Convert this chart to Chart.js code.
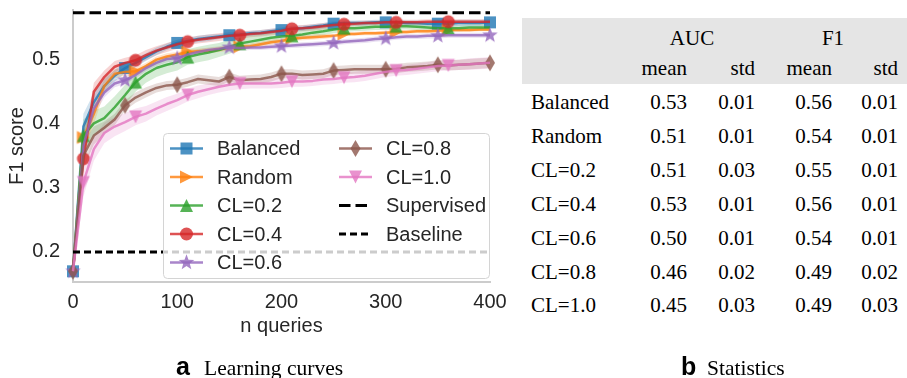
<!DOCTYPE html>
<html><head><meta charset="utf-8">
<script src="https://cdn.jsdelivr.net/npm/chart.js@4.4.1/dist/chart.umd.min.js"></script>
<style>
html,body{margin:0;padding:0;background:#fff;width:907px;height:378px;overflow:hidden;position:relative;}
#wrap{position:absolute;left:0;top:0;width:510px;height:378px;}
.t{position:absolute;font-family:"Liberation Serif","Times New Roman",serif;font-size:21px;color:#000;white-space:nowrap;line-height:24px;}
.r{text-align:right;width:120px;}
.c{text-align:center;width:120px;}
#hdr{position:absolute;left:522px;top:18px;width:385px;height:66px;background:#e5e5e5;}
.capL{position:absolute;font-family:"Liberation Sans",Arial,sans-serif;font-weight:bold;font-size:25px;line-height:30px;color:#000;white-space:nowrap;}
.capT{position:absolute;font-family:"Liberation Serif","Times New Roman",serif;font-size:21.5px;line-height:26px;color:#000;white-space:nowrap;}
</style></head>
<body>
<div id="wrap"><canvas id="c"></canvas></div>
<div id="hdr"></div>
<div id="tbl"></div>
<div class="capL" style="left:176px;top:351px;">a</div>
<div class="capT" style="left:204px;top:354.5px;">Learning curves</div>
<div class="capL" style="left:681px;top:351px;">b</div>
<div class="capT" style="left:707px;top:354.5px;">Statistics</div>
<script>
// ---------- data ----------
const queries = [0,10,20,30,40,50,60,70,80,90,100,110,120,130,140,150,160,170,180,190,200,210,220,230,240,250,260,270,280,290,300,310,320,330,340,350,360,370,380,390,400];
const seriesNames = ['Balanced','Random','CL=0.2','CL=0.4','CL=0.6','CL=0.8','CL=1.0'];
const balanced = [0.170,0.395,0.433,0.458,0.474,0.486,0.494,0.503,0.512,0.519,0.525,0.528,0.531,0.533,0.535,0.537,0.538,0.540,0.541,0.543,0.545,0.547,0.548,0.550,0.552,0.555,0.556,0.556,0.556,0.557,0.557,0.557,0.556,0.556,0.555,0.555,0.555,0.556,0.556,0.556,0.557];
const random = [0.170,0.378,0.415,0.458,0.477,0.480,0.481,0.489,0.499,0.504,0.507,0.511,0.512,0.513,0.515,0.517,0.519,0.520,0.523,0.526,0.528,0.532,0.533,0.534,0.535,0.536,0.539,0.539,0.540,0.540,0.541,0.542,0.542,0.543,0.543,0.544,0.545,0.545,0.545,0.546,0.546];
const cl02 = [0.170,0.381,0.400,0.408,0.425,0.444,0.464,0.477,0.486,0.491,0.495,0.503,0.507,0.510,0.514,0.519,0.524,0.527,0.530,0.533,0.535,0.536,0.538,0.541,0.543,0.546,0.548,0.548,0.549,0.550,0.550,0.551,0.551,0.550,0.549,0.548,0.548,0.548,0.549,0.549,0.549];
const cl04 = [0.170,0.345,0.449,0.472,0.488,0.494,0.498,0.506,0.513,0.518,0.523,0.527,0.530,0.532,0.534,0.536,0.537,0.539,0.540,0.542,0.544,0.547,0.548,0.549,0.551,0.553,0.554,0.555,0.556,0.556,0.557,0.557,0.557,0.557,0.558,0.558,0.558,0.558,0.558,0.558,0.558];
const cl06 = [0.170,0.366,0.423,0.448,0.462,0.467,0.475,0.486,0.494,0.500,0.501,0.507,0.511,0.514,0.516,0.518,0.517,0.518,0.518,0.519,0.520,0.521,0.522,0.523,0.524,0.525,0.527,0.528,0.529,0.531,0.532,0.534,0.535,0.535,0.536,0.536,0.537,0.537,0.537,0.537,0.537];
const cl08 = [0.170,0.350,0.381,0.393,0.406,0.428,0.440,0.448,0.455,0.459,0.460,0.464,0.469,0.467,0.465,0.472,0.467,0.468,0.469,0.472,0.477,0.477,0.475,0.476,0.477,0.482,0.483,0.484,0.484,0.484,0.484,0.485,0.487,0.488,0.489,0.491,0.490,0.491,0.492,0.493,0.494];
const cl10 = [0.170,0.308,0.360,0.385,0.395,0.402,0.410,0.415,0.423,0.430,0.436,0.444,0.449,0.453,0.457,0.460,0.462,0.462,0.462,0.462,0.463,0.465,0.465,0.466,0.468,0.469,0.471,0.472,0.474,0.477,0.480,0.482,0.483,0.485,0.487,0.489,0.490,0.491,0.492,0.493,0.494];
const stdBalanced = [0.003,0.020,0.014,0.011,0.009,0.008,0.007,0.006,0.006,0.005,0.005,0.005,0.005,0.005,0.004,0.004,0.004,0.004,0.004,0.004,0.004,0.004,0.004,0.004,0.004,0.004,0.004,0.004,0.004,0.004,0.004,0.004,0.004,0.004,0.004,0.005,0.005,0.005,0.005,0.005,0.005];
const stdRandom = [0.003,0.020,0.016,0.010,0.007,0.006,0.005,0.005,0.005,0.005,0.004,0.004,0.004,0.004,0.004,0.004,0.004,0.004,0.004,0.004,0.004,0.004,0.004,0.004,0.004,0.003,0.003,0.003,0.003,0.003,0.003,0.003,0.003,0.003,0.003,0.003,0.003,0.003,0.003,0.003,0.003];
const stdCl02 = [0.003,0.025,0.020,0.018,0.017,0.016,0.015,0.014,0.014,0.013,0.013,0.012,0.012,0.012,0.011,0.011,0.010,0.010,0.009,0.009,0.008,0.008,0.007,0.007,0.006,0.006,0.006,0.005,0.005,0.005,0.005,0.005,0.005,0.005,0.005,0.005,0.005,0.005,0.005,0.005,0.005];
const stdCl04 = [0.003,0.022,0.014,0.010,0.009,0.008,0.008,0.008,0.007,0.007,0.007,0.006,0.006,0.006,0.006,0.006,0.006,0.005,0.005,0.005,0.005,0.005,0.005,0.005,0.005,0.004,0.004,0.004,0.004,0.004,0.004,0.004,0.004,0.004,0.004,0.004,0.004,0.004,0.004,0.004,0.004];
const stdCl06 = [0.003,0.020,0.012,0.008,0.006,0.006,0.005,0.005,0.005,0.005,0.004,0.004,0.004,0.004,0.004,0.004,0.004,0.004,0.004,0.004,0.004,0.004,0.004,0.004,0.004,0.004,0.004,0.004,0.004,0.004,0.004,0.004,0.004,0.004,0.004,0.004,0.004,0.004,0.004,0.004,0.004];
const stdCl08 = [0.003,0.020,0.014,0.010,0.009,0.008,0.008,0.008,0.007,0.007,0.007,0.007,0.007,0.007,0.007,0.007,0.007,0.007,0.007,0.007,0.007,0.007,0.007,0.007,0.007,0.007,0.007,0.007,0.007,0.007,0.007,0.007,0.007,0.007,0.007,0.007,0.008,0.008,0.008,0.008,0.008];
const stdCl10 = [0.003,0.022,0.018,0.016,0.015,0.014,0.013,0.012,0.011,0.011,0.010,0.010,0.010,0.009,0.009,0.009,0.009,0.008,0.008,0.008,0.008,0.008,0.008,0.008,0.008,0.008,0.008,0.008,0.008,0.008,0.008,0.008,0.008,0.008,0.008,0.008,0.008,0.008,0.009,0.009,0.009];
const supervisedLevel = 0.572;
const baselineLevel = 0.2;
const xTicks = [0,100,200,300,400];
const yTicks = [0.2,0.3,0.4,0.5];
const yTickLabels = ['0.2','0.3','0.4','0.5'];
// statistics table
const tableRows = ['Balanced','Random','CL=0.2','CL=0.4','CL=0.6','CL=0.8','CL=1.0'];
const aucMean = ['0.53','0.51','0.51','0.53','0.50','0.46','0.45'];
const aucStd  = ['0.01','0.01','0.03','0.01','0.01','0.02','0.03'];
const f1Mean  = ['0.56','0.54','0.55','0.56','0.54','0.49','0.49'];
const f1Std   = ['0.01','0.01','0.01','0.01','0.01','0.02','0.03'];

// ---------- styles ----------
const means = [balanced, random, cl02, cl04, cl06, cl08, cl10];
const stds = [stdBalanced, stdRandom, stdCl02, stdCl04, stdCl06, stdCl08, stdCl10];
const rgb = ['31,119,180','255,127,14','44,160,44','214,39,40','148,103,189','140,86,75','227,119,194'];
const shapes = ['square','triRight','triUp','circle','star','thinDiamond','triDown'];
const markOffset = [0,1,1,1,0,0,1];
const FONT = '"Liberation Sans", Arial, sans-serif';
const TXT = '#262626';

function drawShape(g, shape, x, y){
  g.beginPath();
  const h = 6.5;
  switch(shape){
    case 'square': g.rect(x-6, y-6, 12, 12); break;
    case 'circle': g.arc(x, y, 6.5, 0, Math.PI*2); break;
    case 'triUp': g.moveTo(x, y-h); g.lineTo(x+h, y+h); g.lineTo(x-h, y+h); g.closePath(); break;
    case 'triDown': g.moveTo(x, y+h); g.lineTo(x+h, y-h); g.lineTo(x-h, y-h); g.closePath(); break;
    case 'triRight': g.moveTo(x+h, y); g.lineTo(x-h, y-h); g.lineTo(x-h, y+h); g.closePath(); break;
    case 'thinDiamond': g.moveTo(x, y-8.5); g.lineTo(x+5, y); g.lineTo(x, y+8.5); g.lineTo(x-5, y); g.closePath(); break;
    case 'star': {
      for (let k=0;k<10;k++){
        const r = k%2===0 ? 8.2 : 3.4;
        const a = -Math.PI/2 + k*Math.PI/5;
        const px = x + r*Math.cos(a), py = y + r*Math.sin(a);
        if(k===0) g.moveTo(px,py); else g.lineTo(px,py);
      }
      g.closePath(); break;
    }
  }
  g.fill();
}
function markerCanvas(shape, color){
  const S = 20, c = document.createElement('canvas');
  c.width = S; c.height = S;
  const g = c.getContext('2d');
  g.fillStyle = color;
  drawShape(g, shape, S/2, S/2);
  return c;
}

const datasets = [];
means.forEach((m, i) => {
  datasets.push({data: m.map((v,k)=>({x: queries[k], y: v + stds[i][k]})), borderWidth:0, borderColor:'rgba(0,0,0,0)', pointRadius:0, fill:false, order:20, clip:false});
  datasets.push({data: m.map((v,k)=>({x: queries[k], y: v - stds[i][k]})), borderWidth:0, borderColor:'rgba(0,0,0,0)', pointRadius:0, fill:'-1', backgroundColor:`rgba(${rgb[i]},0.2)`, order:20, clip:false});
});
means.forEach((m, i) => {
  const img = markerCanvas(shapes[i], `rgba(${rgb[i]},0.8)`);
  datasets.push({
    label: seriesNames[i],
    data: m.map((v,k)=>({x: queries[k], y: v})),
    borderColor: `rgba(${rgb[i]},0.8)`, borderWidth: 2.5, borderJoinStyle:'round',
    pointStyle: img,
    pointRadius: ctx => (ctx.dataIndex % 5 === markOffset[i]) ? 7 : 0,
    pointHoverRadius: 0,
    fill:false, tension:0, order: 10 - i, clip:false
  });
});
datasets.push({label:'Supervised', data:[{x:queries[0],y:supervisedLevel},{x:queries[queries.length-1],y:supervisedLevel}], borderColor:'#000', borderWidth:3, borderDash:[11.5,5], borderCapStyle:'butt', pointRadius:0, fill:false, order:0, clip:false});
datasets.push({label:'Baseline', data:[{x:queries[0],y:baselineLevel},{x:queries[queries.length-1],y:baselineLevel}], borderColor:'#000', borderWidth:3, borderDash:[7,4], borderCapStyle:'butt', pointRadius:0, fill:false, order:0, clip:false});

const legendPlugin = {
  id: 'customLegend',
  afterDatasetsDraw(chart){
    const ctx = chart.ctx;
    const L = 163, T = 133, R = 489, B = 278;
    ctx.save();
    ctx.beginPath();
    ctx.roundRect(L+0.5, T+0.5, R-L, B-T, 4);
    ctx.fillStyle = 'rgba(255,255,255,0.8)';
    ctx.fill();
    ctx.strokeStyle = '#d4d4d4';
    ctx.lineWidth = 1;
    ctx.stroke();
    const items = seriesNames.map((n,i)=>({label:n, i}));
    items.push({label:'Supervised', dash:[11.5,5]});
    items.push({label:'Baseline', dash:[7,4]});
    const hx = [170, 339], tx = [217, 386];
    items.forEach((it, k) => {
      const col = Math.floor(k/5), row = k%5;
      const y = T + 15.5 + row*28.5;
      ctx.save();
      ctx.beginPath();
      if (it.dash){
        ctx.setLineDash(it.dash); ctx.strokeStyle = '#000'; ctx.lineWidth = 3; ctx.lineCap='butt';
      } else {
        ctx.setLineDash([]); ctx.strokeStyle = `rgba(${rgb[it.i]},0.8)`; ctx.lineWidth = 2.5;
      }
      ctx.moveTo(hx[col], y); ctx.lineTo(hx[col]+33, y); ctx.stroke();
      ctx.restore();
      if (!it.dash){
        ctx.fillStyle = `rgba(${rgb[it.i]},0.8)`;
        drawShape(ctx, shapes[it.i], hx[col]+16.5, y);
      }
      ctx.fillStyle = TXT;
      ctx.font = '20px ' + FONT;
      ctx.textBaseline = 'middle';
      ctx.textAlign = 'left';
      ctx.fillText(it.label, tx[col], y+1);
    });
    ctx.restore();
  }
};

new Chart(document.getElementById('c'), {
  type: 'line',
  data: { datasets },
  options: {
    responsive: true, maintainAspectRatio: false, animation: false, devicePixelRatio: 1,
    events: [],
    layout: { padding: { left: 0, top: 10, right: 20, bottom: 0 } },
    plugins: { legend: { display: false }, tooltip: { enabled: false } },
    scales: {
      x: {
        type: 'linear', min: 0, max: 400,
        afterBuildTicks: s => { s.ticks = xTicks.map(v => ({value: v})); },
        afterFit: s => { s.height = 96; s.paddingLeft = 0; s.paddingRight = 0; s.paddingTop = 0; s.paddingBottom = 0; },
        grid: { display: false, drawTicks: false },
        border: { display: true, color: '#cccccc', width: 2 },
        ticks: { padding: 8, font: { size: 20, family: FONT }, color: TXT, maxRotation: 0 },
        title: { display: true, text: 'n queries', font: { size: 20, family: FONT }, color: TXT, padding: { top: 0, bottom: 40 } }
      },
      y: {
        type: 'linear', min: 0.1533, max: 0.5762,
        afterBuildTicks: s => { s.ticks = yTicks.map(v => ({value: v})); },
        afterFit: s => { s.width = 73; s.paddingLeft = 0; s.paddingRight = 0; s.paddingTop = 0; s.paddingBottom = 0; },
        grid: { display: false, drawTicks: false },
        border: { display: true, color: '#cccccc', width: 2 },
        ticks: { padding: 13, font: { size: 20, family: FONT }, color: TXT, callback: (v, i) => yTickLabels[i] },
        title: { display: true, text: 'F1 score', font: { size: 20, family: FONT }, color: TXT, padding: { top: 5.5, bottom: 0 } }
      }
    }
  },
  plugins: [legendPlugin]
});

// ---------- statistics table ----------
const tbl = document.getElementById('tbl');
function cell(text, cls, left, cy){
  const d = document.createElement('div');
  d.className = 't ' + cls;
  d.textContent = text;
  d.style.left = left + 'px';
  d.style.top = (cy - 12) + 'px';
  tbl.appendChild(d);
}
const colRight = [687, 755, 832, 898];
cell('AUC', 'c', 692-60, 38);
cell('F1', 'c', 833-60, 38);
['mean','std','mean','std'].forEach((h, j) => cell(h, 'r', colRight[j]-120, 68));
const rowY = [102, 136, 170, 204, 238, 271.5, 305];
tableRows.forEach((name, r) => {
  cell(name, '', 531, rowY[r]);
  [aucMean[r], aucStd[r], f1Mean[r], f1Std[r]].forEach((v, j) => cell(v, 'r', colRight[j]-120, rowY[r]));
});
</script>
</body></html>
